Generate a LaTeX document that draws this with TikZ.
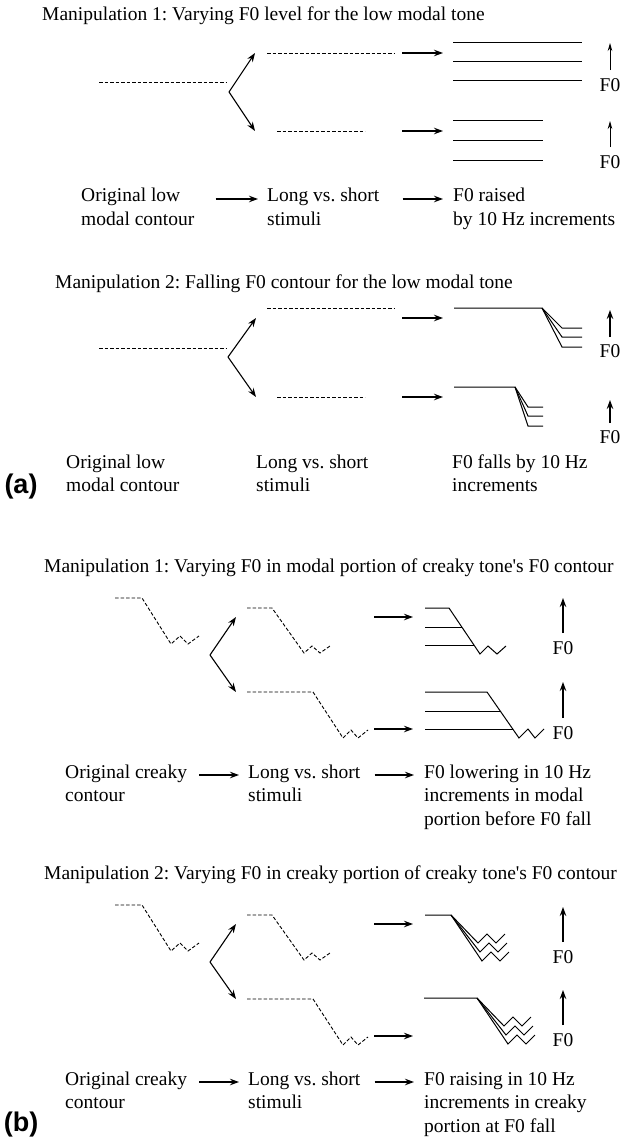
\documentclass[tikz,border=0pt]{standalone}
\usepackage{fontspec}
\setmainfont{Liberation Serif}
\newfontfamily\tagfont{Liberation Sans}
\usetikzlibrary{arrows.meta}
\newcommand{\lblfont}{\fontsize{19.5}{23.5}\selectfont}
\newcommand{\stk}[1]{\begin{tabular}[t]{@{}l@{}}#1\end{tabular}}
\frenchspacing

\begin{document}
\begin{tikzpicture}[
x=1pt, y=-1pt,
every node/.style={inner sep=0pt, font=\lblfont},
txt/.style={anchor=base west},
paneltag/.style={font=\tagfont\bfseries\fontsize{27}{27}\selectfont},
stim/.style={dash pattern=on 3.5pt off 2pt, line width=0.9pt},
tone/.style={line width=1pt},
arr/.style={-{Stealth[length=9pt,width=6.5pt]}, line width=1.1pt},
thinarr/.style={-{Stealth[length=8pt,width=4.5pt]}, line width=0.9pt}
]
\useasboundingbox (0,0) rectangle (624,1139);

% (a) manipulation 1
\node[txt] (title1) at (42,21) {Manipulation 1: Varying F0 level for the low modal tone};
\draw[stim] (99,82) -- (227,82);
\coordinate (fork1) at (229,92);
\coordinate (long1) at (255,53);
\coordinate (short1) at (255,131);
\draw[arr] (fork1) -- (long1);
\draw[arr] (fork1) -- (short1);
\draw[stim] (267,53) -- (394,53);
\draw[stim] (277,131) -- (365,131);
\coordinate (go1) at (402,53);
\coordinate (to1) at (443,53);
\coordinate (go2) at (402,131);
\coordinate (to2) at (443,131);
\draw[arr] (go1) -- (to1);
\draw[arr] (go2) -- (to2);
\draw[tone] (453,43) -- (582,43);
\draw[tone] (453,62) -- (582,62);
\draw[tone] (453,81) -- (582,81);
\draw[tone] (453,121) -- (543,121);
\draw[tone] (453,141) -- (543,141);
\draw[tone] (453,161) -- (543,161);
\node (f0a) at (610,85) {F0};
\node (f0b) at (610,162) {F0};
\coordinate (upa) at (610,43);
\coordinate (upb) at (610,121);
\draw[thinarr] ([yshift=8pt]f0a.north) -- (upa);
\draw[thinarr] ([yshift=8pt]f0b.north) -- (upb);
\node[txt] (orig1) at (81,202) {\stk{Original low\\modal contour}};
\node[txt] (stim1) at (267,202) {\stk{Long vs. short\\stimuli}};
\node[txt] (res1) at (453,202) {\stk{F0 raised\\by 10 Hz increments}};
\draw[arr] ([xshift=21pt,yshift=3pt]orig1.base east) -- ([xshift=-9pt,yshift=3pt]stim1.base west);
\draw[arr] ([xshift=23pt,yshift=3pt]stim1.base east) -- ([xshift=-10pt,yshift=3pt]res1.base west);

% (a) manipulation 2
\node[txt] (title2) at (55,289) {Manipulation 2: Falling F0 contour for the low modal tone};
\draw[stim] (99,348) -- (227,348);
\coordinate (fork2) at (228,357);
\coordinate (long2) at (256,318);
\coordinate (short2) at (256,397);
\draw[arr] (fork2) -- (long2);
\draw[arr] (fork2) -- (short2);
\draw[stim] (267,308) -- (395,308);
\draw[stim] (277,397) -- (365,397);
\coordinate (go3) at (402,318);
\coordinate (to3) at (443,318);
\coordinate (go4) at (402,397);
\coordinate (to4) at (443,397);
\draw[arr] (go3) -- (to3);
\draw[arr] (go4) -- (to4);
\draw[tone] (454,308) -- (542,308) -- (562,328) -- (582,328);
\draw[tone] (542,308) -- (562,337) -- (582,337);
\draw[tone] (542,308) -- (562,347) -- (582,347);
\draw[tone] (454,387) -- (515,387) -- (528,407) -- (543,407);
\draw[tone] (515,387) -- (528,416) -- (543,416);
\draw[tone] (515,387) -- (528,426) -- (543,426);
\node (f0c) at (610,351) {F0};
\node (f0d) at (610,437) {F0};
\coordinate (upc) at (610,310);
\coordinate (upd) at (610,400);
\draw[arr] ([yshift=7pt]f0c.north) -- (upc);
\draw[arr] ([yshift=7pt]f0d.north) -- (upd);
\node[txt] (orig2) at (66,468) {\stk{Original low\\modal contour}};
\node[txt] (stim2) at (256,468) {\stk{Long vs. short\\stimuli}};
\node[txt] (res2) at (452,468) {\stk{F0 falls by 10 Hz\\increments}};
\node[paneltag] (pa) at (21,487) {(a)};

% (b) manipulation 1
\node[txt] (title3) at (44,572) {Manipulation 1: Varying F0 in modal portion of creaky tone\textquotesingle s F0 contour};
\draw[stim] (115,598) -- (142,598) -- (171,644) -- (180,636) -- (188,644) -- (199,636);
\coordinate (fork3) at (210,655);
\coordinate (short3) at (236,617);
\coordinate (long3) at (236,692);
\draw[arr] (fork3) -- (short3);
\draw[arr] (fork3) -- (long3);
\draw[stim] (247,608) -- (272,608) -- (304,653) -- (312,646) -- (320,653) -- (330,646);
\draw[stim] (247,692) -- (313,692) -- (343,738) -- (351,730) -- (358,738) -- (368,730);
\coordinate (go5) at (374,617);
\coordinate (to5) at (413,617);
\coordinate (go6) at (374,729);
\coordinate (to6) at (413,729);
\draw[arr] (go5) -- (to5);
\draw[arr] (go6) -- (to6);
\draw[tone] (425,608) -- (449,608) -- (480,654) -- (488,646) -- (497,654) -- (506,646);
\draw[tone] (425,627) -- (462,627);
\draw[tone] (425,645) -- (474,645);
\draw[tone] (425,692) -- (487,692) -- (519,738) -- (528,729) -- (535,738) -- (544,729);
\draw[tone] (425,711) -- (500,711);
\draw[tone] (425,729) -- (513,729);
\node (f0e) at (563,648) {F0};
\node (f0f) at (563,733) {F0};
\coordinate (upe) at (563,598);
\coordinate (upf) at (563,682);
\draw[arr] ([yshift=8pt]f0e.north) -- (upe);
\draw[arr] ([yshift=8pt]f0f.north) -- (upf);
\node[txt] (orig3) at (65,778) {\stk{Original creaky\\contour}};
\node[txt] (stim3) at (248,778) {\stk{Long vs. short\\stimuli}};
\node[txt] (res3) at (424,778) {\stk{F0 lowering in 10 Hz\\increments in modal\\portion before F0 fall}};
\draw[arr] ([xshift=12pt,yshift=3pt]orig3.base east) -- ([xshift=-9pt,yshift=3pt]stim3.base west);
\draw[arr] ([xshift=14pt,yshift=3pt]stim3.base east) -- ([xshift=-10pt,yshift=3pt]res3.base west);

% (b) manipulation 2
\node[txt] (title4) at (44,879) {Manipulation 2: Varying F0 in creaky portion of creaky tone\textquotesingle s F0 contour};
\draw[stim] (115,905) -- (142,905) -- (171,951) -- (180,943) -- (188,951) -- (199,943);
\coordinate (fork4) at (210,962);
\coordinate (short4) at (236,924);
\coordinate (long4) at (236,999);
\draw[arr] (fork4) -- (short4);
\draw[arr] (fork4) -- (long4);
\draw[stim] (247,915) -- (272,915) -- (304,960) -- (312,953) -- (320,960) -- (330,953);
\draw[stim] (247,999) -- (313,999) -- (343,1045) -- (351,1037) -- (358,1045) -- (368,1037);
\coordinate (go7) at (374,924);
\coordinate (to7) at (413,924);
\coordinate (go8) at (374,1036);
\coordinate (to8) at (413,1036);
\draw[arr] (go7) -- (to7);
\draw[arr] (go8) -- (to8);
\draw[tone] (425,915) -- (451,915) -- (478,943) -- (487,934) -- (496,943) -- (505,934);
\draw[tone] (451,915) -- (480,952) -- (489,943) -- (498,952) -- (507,943);
\draw[tone] (451,915) -- (482,961) -- (491,952) -- (500,961) -- (509,952);
\draw[tone] (424,998) -- (477,998) -- (504,1026) -- (513,1017) -- (522,1026) -- (531,1017);
\draw[tone] (477,998) -- (506,1035) -- (515,1026) -- (524,1035) -- (533,1026);
\draw[tone] (477,998) -- (508,1044) -- (517,1035) -- (526,1044) -- (535,1035);
\node (f0g) at (563,957) {F0};
\node (f0h) at (563,1040) {F0};
\coordinate (upg) at (563,907);
\coordinate (uph) at (563,990);
\draw[arr] ([yshift=8pt]f0g.north) -- (upg);
\draw[arr] ([yshift=8pt]f0h.north) -- (uph);
\node[txt] (orig4) at (65,1085) {\stk{Original creaky\\contour}};
\node[txt] (stim4) at (248,1085) {\stk{Long vs. short\\stimuli}};
\node[txt] (res4) at (424,1085) {\stk{F0 raising in 10 Hz\\increments in creaky\\portion at F0 fall}};
\draw[arr] ([xshift=12pt,yshift=3pt]orig4.base east) -- ([xshift=-9pt,yshift=3pt]stim4.base west);
\draw[arr] ([xshift=14pt,yshift=3pt]stim4.base east) -- ([xshift=-10pt,yshift=3pt]res4.base west);
\node[paneltag] (pb) at (21,1125) {(b)};
\end{tikzpicture}
\end{document}
